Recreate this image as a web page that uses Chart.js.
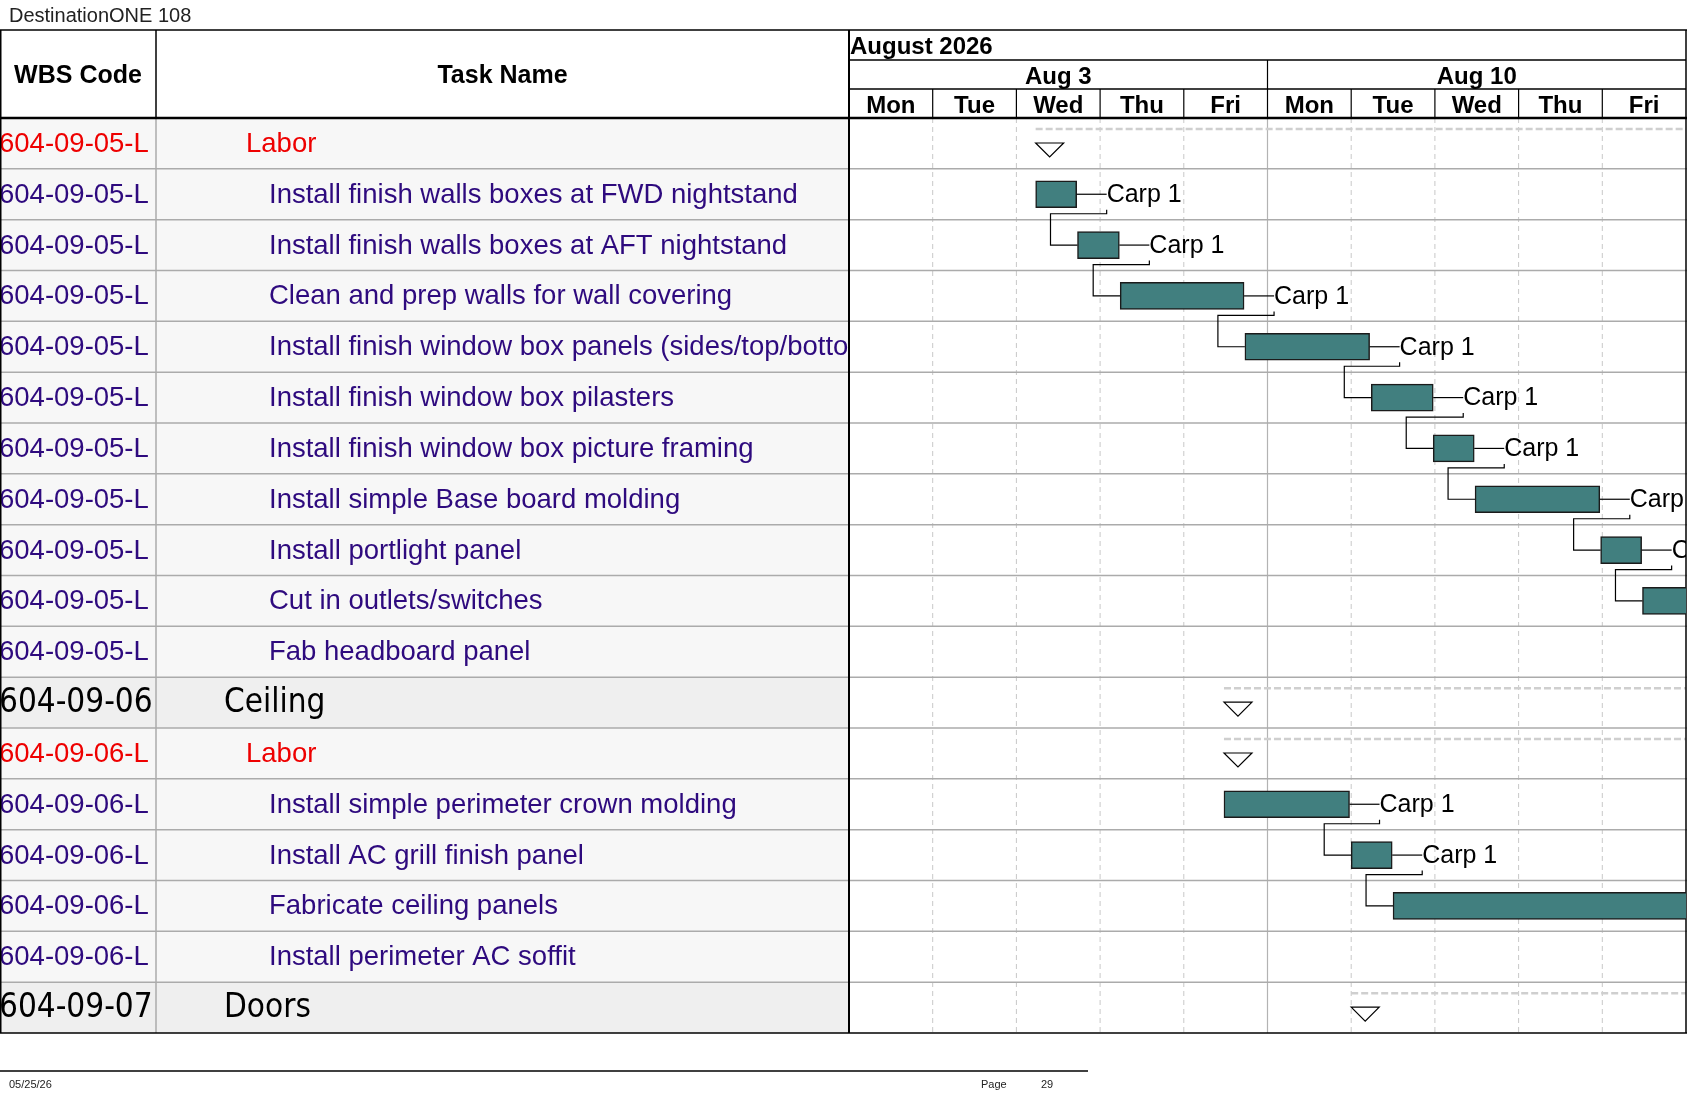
<!DOCTYPE html>
<html>
  <head>
    <title>DestinationONE 108</title>
    <script src="https://cdn.jsdelivr.net/npm/chart.js"></script>
    <style>
      body { margin: 0; background: #fff; overflow: hidden; }
      #wrap { position: relative; width: 1687px; height: 1097px; }
      #gantt { position: absolute; left: 0; top: 0; }
      .note { position: absolute; font-family: "Liberation Sans", Arial, sans-serif; color: #222; white-space: nowrap; }
    </style>
  </head>
  <body>
    <div id="wrap">
      <canvas id="gantt" width="1687" height="1097"></canvas>
      <div class="note" style="left:9px; top:4px; font-size:20px;">DestinationONE 108</div>
      <div class="note" style="left:9px; top:1078px; font-size:11px;">05/25/26</div>
      <div class="note" style="left:981px; top:1078px; font-size:11px;">Page</div>
      <div class="note" style="left:1041px; top:1078px; font-size:11px;">29</div>
    </div>
    <script>
      // time scale: day 0 = Mon Aug 3 2026
      var monthLabel = "August 2026";
      var weekLabels = ["Aug 3", "Aug 10"];
      var dayLabels = ["Mon", "Tue", "Wed", "Thu", "Fri", "Mon", "Tue", "Wed", "Thu", "Fri"];

      var wbsCodes = [
        "604-09-05-L", "604-09-05-L", "604-09-05-L", "604-09-05-L", "604-09-05-L", "604-09-05-L",
        "604-09-05-L", "604-09-05-L", "604-09-05-L", "604-09-05-L", "604-09-05-L",
        "604-09-06", "604-09-06-L", "604-09-06-L", "604-09-06-L", "604-09-06-L", "604-09-06-L",
        "604-09-07"
      ];
      var taskNames = [
        "Labor",
        "Install finish walls boxes at FWD nightstand",
        "Install finish walls boxes at AFT nightstand",
        "Clean and prep walls for wall covering",
        "Install finish window box panels (sides/top/bottom)",
        "Install finish window box pilasters",
        "Install finish window box picture framing",
        "Install simple Base board molding",
        "Install portlight panel",
        "Cut in outlets/switches",
        "Fab headboard panel",
        "Ceiling",
        "Labor",
        "Install simple perimeter crown molding",
        "Install AC grill finish panel",
        "Fabricate ceiling panels",
        "Install perimeter AC soffit",
        "Doors"
      ];
      // 1 = section, 2 = labor group, 3 = task
      var outlineLevel = [2, 3, 3, 3, 3, 3, 3, 3, 3, 3, 3, 1, 2, 3, 3, 3, 3, 1];
      var taskStart = [2.23, 2.23, 2.73, 3.24, 4.73, 6.24, 6.98, 7.48, 8.98, 9.48, 10.48, 4.48, 4.48, 4.48, 6.0, 6.5, 10.5, 6.0];
      var taskEnd = [12, 2.72, 3.23, 4.72, 6.22, 6.98, 7.47, 8.97, 9.47, 10.48, 11.5, 12, 12, 5.98, 6.49, 10.5, 11.5, 12];
      var resources = ["", "Carp 1", "Carp 1", "Carp 1", "Carp 1", "Carp 1", "Carp 1", "Carp 1", "Carp 1", "Carp 1", "Carp 1",
        "", "", "Carp 1", "Carp 1", "Carp 1", "Carp 1", ""];
      var predecessor = [null, null, 1, 2, 3, 4, 5, 6, 7, 8, 9, null, null, null, 13, 14, 15, null];

      var TABLE_COL = 156;
      var GANTT_LEFT = 849;
      var HEAD_TOP = 30;
      var TEXT_FONT = '"Liberation Sans", Arial, sans-serif';
      var BIG_FONT = '"DejaVu Sans Condensed", "DejaVu Sans", sans-serif';
      var levelColor = { 1: "#000000", 2: "#ee0000", 3: "#2e0a7e" };
      var levelIndent = { 1: 224, 2: 246, 3: 269 };

      function line(ctx, x1, y1, x2, y2, color, width, dash) {
        ctx.save();
        ctx.strokeStyle = color;
        ctx.lineWidth = width;
        ctx.setLineDash(dash || []);
        ctx.beginPath();
        ctx.moveTo(x1, y1);
        ctx.lineTo(x2, y2);
        ctx.stroke();
        ctx.restore();
      }

      var tablePlugin = {
        id: "ganttTable",
        beforeDatasetsDraw: function (chart) {
          var ctx = chart.ctx;
          var area = chart.chartArea;
          var x = chart.scales.x;
          var y = chart.scales.y;
          var rowH = y.getPixelForValue(1) - y.getPixelForValue(0);
          var W = chart.width;

          // table row backgrounds
          for (var i = 0; i < taskNames.length; i++) {
            var top = y.getPixelForValue(i) - rowH / 2;
            ctx.fillStyle = outlineLevel[i] === 1 ? "#efefef" : "#f7f7f7";
            ctx.fillRect(0, top, GANTT_LEFT, rowH);
          }

          // vertical day grid
          for (var d = 1; d < dayLabels.length; d++) {
            var px = x.getPixelForValue(d);
            if (d % 5 === 0) line(ctx, px, area.top, px, area.bottom, "#b3b3b3", 1.2);
            else line(ctx, px, area.top, px, area.bottom, "#c8c8c8", 1, [5, 4]);
          }
          // row separators
          for (var r = 1; r < taskNames.length; r++) {
            var yb = y.getPixelForValue(r) - rowH / 2;
            line(ctx, 0, yb, W, yb, "#ababab", 1.5);
          }
          line(ctx, TABLE_COL, area.top, TABLE_COL, area.bottom, "#ababab", 1.5);

          // summary dashed spans
          for (var s = 0; s < taskNames.length; s++) {
            if (outlineLevel[s] === 3) continue;
            var sy = y.getPixelForValue(s) - rowH / 2 + 11;
            ctx.save();
            ctx.beginPath();
            ctx.rect(area.left, area.top, area.right - area.left, area.bottom - area.top);
            ctx.clip();
            line(ctx, x.getPixelForValue(taskStart[s]), sy, x.getPixelForValue(taskEnd[s]), sy, "#cfcfcf", 2.5, [7, 3]);
            ctx.restore();
          }

          // table texts
          ctx.save();
          ctx.textBaseline = "middle";
          ctx.textAlign = "left";
          for (var t = 0; t < taskNames.length; t++) {
            var cy = y.getPixelForValue(t);
            var lvl = outlineLevel[t];
            ctx.fillStyle = levelColor[lvl];
            ctx.font = (lvl === 1 ? "33px " + BIG_FONT : "27.5px " + TEXT_FONT);
            ctx.save();
            ctx.beginPath();
            ctx.rect(0, cy - rowH / 2, TABLE_COL, rowH);
            ctx.clip();
            ctx.fillText(wbsCodes[t], -1, cy + 1);
            ctx.restore();
            ctx.save();
            ctx.beginPath();
            ctx.rect(TABLE_COL, cy - rowH / 2, GANTT_LEFT - TABLE_COL, rowH);
            ctx.clip();
            ctx.fillText(taskNames[t], levelIndent[lvl], cy + 1);
            ctx.restore();
          }
          ctx.restore();

          // headers
          ctx.save();
          ctx.fillStyle = "#000";
          ctx.font = "bold 25px " + TEXT_FONT;
          ctx.textBaseline = "middle";
          ctx.textAlign = "center";
          var hy = (HEAD_TOP + area.top) / 2 + 2;
          ctx.fillText("WBS Code", TABLE_COL / 2, hy);
          ctx.fillText("Task Name", (TABLE_COL + GANTT_LEFT) / 2, hy);
          ctx.font = "bold 24px " + TEXT_FONT;
          ctx.textAlign = "left";
          ctx.fillText(monthLabel, area.left + 1, 47);
          ctx.textAlign = "center";
          for (var w = 0; w < weekLabels.length; w++) {
            var wx = (x.getPixelForValue(w * 5) + x.getPixelForValue(w * 5 + 5)) / 2;
            ctx.fillText(weekLabels[w], wx, 77);
          }
          for (var k = 0; k < dayLabels.length; k++) {
            var dx = (x.getPixelForValue(k) + x.getPixelForValue(k + 1)) / 2;
            ctx.fillText(dayLabels[k], dx, 106);
          }
          ctx.restore();

          // header rules and borders
          line(ctx, 0, HEAD_TOP, W, HEAD_TOP, "#000", 1.5);
          line(ctx, area.left, 60, area.right, 60, "#000", 1.5);
          line(ctx, area.left, 89, area.right, 89, "#000", 1.5);
          for (var q = 1; q < dayLabels.length; q++) {
            var qx = x.getPixelForValue(q);
            line(ctx, qx, q % 5 === 0 ? 60 : 89, qx, area.top, "#000", 1.2);
          }
          line(ctx, TABLE_COL, HEAD_TOP, TABLE_COL, area.top, "#000", 1.5);
          line(ctx, 0, area.top, W, area.top, "#000", 2.5);
          line(ctx, 0.75, HEAD_TOP, 0.75, area.bottom, "#000", 1.5);
          line(ctx, area.left, HEAD_TOP, area.left, area.bottom, "#000", 2);
          line(ctx, area.right, HEAD_TOP, area.right, area.bottom, "#000", 1.5);
          line(ctx, 0, area.bottom, W, area.bottom, "#000", 1.5);
          // page footer rule
          line(ctx, 0, 1071, 1088, 1071, "#000", 1.5);
        },
        afterDatasetsDraw: function (chart) {
          var ctx = chart.ctx;
          var area = chart.chartArea;
          var x = chart.scales.x;
          var y = chart.scales.y;
          var rowH = y.getPixelForValue(1) - y.getPixelForValue(0);
          var half = 13.5;

          ctx.save();
          ctx.beginPath();
          ctx.rect(area.left, area.top, area.right - area.left, area.bottom - area.top);
          ctx.clip();

          // summary markers
          for (var s = 0; s < taskNames.length; s++) {
            if (outlineLevel[s] === 3) continue;
            var L = x.getPixelForValue(taskStart[s]);
            var T = y.getPixelForValue(s) - rowH / 2 + 25;
            ctx.beginPath();
            ctx.moveTo(L, T);
            ctx.lineTo(L + 28, T);
            ctx.lineTo(L + 14, T + 14);
            ctx.closePath();
            ctx.fillStyle = "#fff";
            ctx.fill();
            ctx.strokeStyle = "#000";
            ctx.lineWidth = 1.2;
            ctx.stroke();
          }

          // resource labels
          ctx.font = "25px " + TEXT_FONT;
          ctx.textBaseline = "middle";
          ctx.textAlign = "left";
          ctx.fillStyle = "#000";
          for (var i = 0; i < taskNames.length; i++) {
            if (outlineLevel[i] !== 3 || !resources[i]) continue;
            var ex = x.getPixelForValue(taskEnd[i]);
            var cy = y.getPixelForValue(i);
            line(ctx, ex, cy, ex + 30, cy, "#000", 1.2);
            ctx.fillText(resources[i], ex + 30, cy + 1);
          }

          // finish-to-start links
          for (var j = 0; j < taskNames.length; j++) {
            var p = predecessor[j];
            if (p === null) continue;
            var x1 = x.getPixelForValue(taskEnd[p]) + 30;
            var yb = y.getPixelForValue(p) + half;
            var x2 = x.getPixelForValue(taskStart[j]);
            var y2 = y.getPixelForValue(j);
            ctx.beginPath();
            ctx.moveTo(x1, yb + 2);
            ctx.lineTo(x1, yb + 6);
            ctx.lineTo(x2 - 27, yb + 6);
            ctx.lineTo(x2 - 27, y2);
            ctx.lineTo(x2, y2);
            ctx.strokeStyle = "#000";
            ctx.lineWidth = 1.2;
            ctx.stroke();
          }
          ctx.restore();
        }
      };

      var ctx = document.getElementById("gantt").getContext("2d");
      var ganttChart = new Chart(ctx, {
        type: "bar",
        data: {
          labels: taskNames,
          datasets: [
            {
              label: "Tasks",
              data: taskNames.map(function (n, i) {
                return outlineLevel[i] === 3 ? [taskStart[i], taskEnd[i]] : null;
              }),
              backgroundColor: "#417f7f",
              borderColor: "#1b1b1b",
              borderWidth: 1.5,
              borderSkipped: false,
              barThickness: 27,
            },
          ],
        },
        options: {
          indexAxis: "y",
          responsive: false,
          animation: false,
          devicePixelRatio: 1,
          layout: { padding: { left: 849, right: 1, top: 118, bottom: 64 } },
          scales: {
            x: { type: "linear", min: 0, max: 10, display: false },
            y: { type: "category", offset: true, display: false },
          },
          plugins: {
            legend: { display: false },
            tooltip: { enabled: false },
          },
        },
        plugins: [tablePlugin],
      });
    </script>
  </body>
</html>
